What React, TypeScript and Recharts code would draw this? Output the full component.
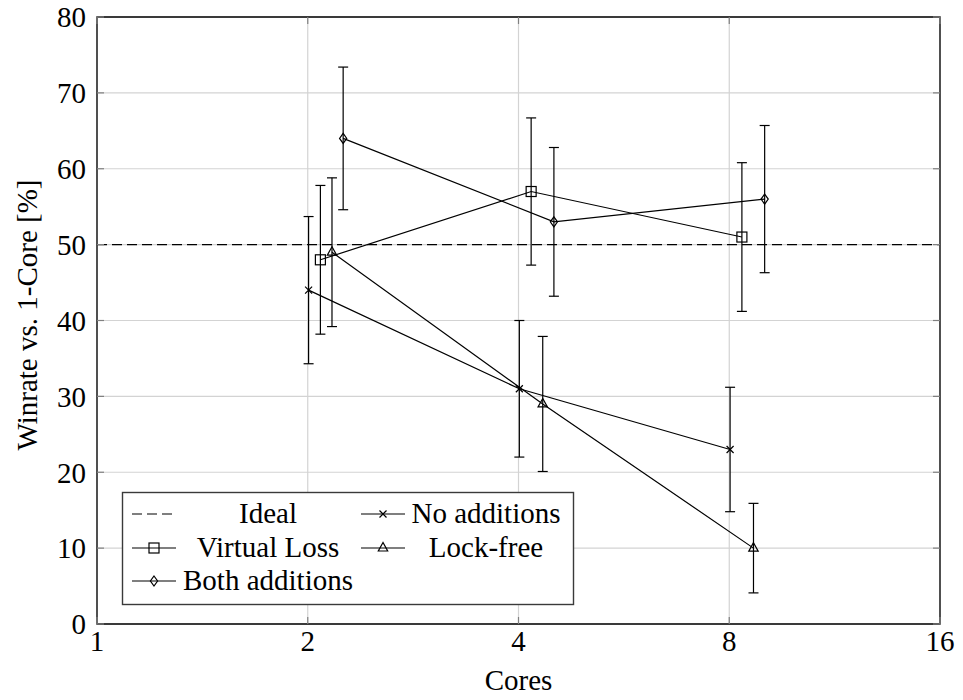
import React from 'react';
import {
  ComposedChart,
  Line,
  XAxis,
  YAxis,
  CartesianGrid,
  ErrorBar,
  ReferenceLine,
  ReferenceArea,
} from 'recharts';

// data
const cores = [2, 4, 8];
const noAdditions = [44, 31, 23];
const noAdditionsErr = [9.7, 9.0, 8.2];
const virtualLoss = [48, 57, 51];
const virtualLossErr = [9.8, 9.7, 9.8];
const lockFree = [49, 29, 10];
const lockFreeErr = [9.8, 8.9, 5.9];
const bothAdditions = [64, 53, 56];
const bothAdditionsErr = [9.4, 9.8, 9.7];
const ideal = 50;

const xTicks = [1, 2, 4, 8, 16];
const yTicks = [0, 10, 20, 30, 40, 50, 60, 70, 80];

const FONT = 'Liberation Serif';
const FS = 29;
const INK = '#000';
const LW = 1.2;

// plot box in page pixels (for the small inner tick marks)
const LEFT = 97;
const RIGHT = 940;
const TOP = 17;
const BOTTOM = 624;
const TICK = 7;
const TICK_COLOR = '#808080';

type Shape = 'cross' | 'square' | 'triangle' | 'diamond';

// small horizontal shift (log2 units) so the error bars don't overlap
const series: { name: string; shape: Shape; shift: number; y: number[]; err: number[] }[] = [
  { name: 'No additions', shape: 'cross', shift: 0.004, y: noAdditions, err: noAdditionsErr },
  { name: 'Virtual Loss', shape: 'square', shift: 0.06, y: virtualLoss, err: virtualLossErr },
  { name: 'Lock-free', shape: 'triangle', shift: 0.115, y: lockFree, err: lockFreeErr },
  { name: 'Both additions', shape: 'diamond', shift: 0.168, y: bothAdditions, err: bothAdditionsErr },
];

const toRows = (s: (typeof series)[number]) =>
  cores.map((c, i) => ({ x: c * Math.pow(2, s.shift), y: s.y[i], err: s.err[i] }));

const Marker = ({ shape, cx, cy }: { shape: Shape; cx: number; cy: number }) => {
  const p = { fill: 'none', stroke: INK, strokeWidth: LW };
  if (shape === 'square') return <rect x={cx - 5} y={cy - 5} width={10} height={10} {...p} />;
  if (shape === 'triangle')
    return <polygon points={`${cx},${cy - 5.5} ${cx - 4.7},${cy + 3} ${cx + 4.7},${cy + 3}`} {...p} />;
  if (shape === 'diamond')
    return <polygon points={`${cx},${cy - 5} ${cx + 3.6},${cy} ${cx},${cy + 5} ${cx - 3.6},${cy}`} {...p} />;
  return (
    <path d={`M${cx - 3.5},${cy - 3.5}L${cx + 3.5},${cy + 3.5}M${cx - 3.5},${cy + 3.5}L${cx + 3.5},${cy - 3.5}`} {...p} />
  );
};

const XTick = (props: any) => {
  const { x, y, payload } = props;
  return (
    <g>
      <line x1={x} x2={x} y1={BOTTOM} y2={BOTTOM - TICK} stroke={TICK_COLOR} strokeWidth={1.2} />
      <line x1={x} x2={x} y1={TOP} y2={TOP + TICK} stroke={TICK_COLOR} strokeWidth={1.2} />
      <text x={x} y={y} dy="0.71em" textAnchor="middle" fontFamily={FONT} fontSize={FS} fill={INK}>
        {payload.value}
      </text>
    </g>
  );
};

const YTick = (props: any) => {
  const { x, y, payload } = props;
  return (
    <g>
      <line x1={LEFT} x2={LEFT + TICK} y1={y} y2={y} stroke={TICK_COLOR} strokeWidth={1.2} />
      <line x1={RIGHT} x2={RIGHT - TICK} y1={y} y2={y} stroke={TICK_COLOR} strokeWidth={1.2} />
      <text x={x} y={y} dy="0.355em" textAnchor="end" fontFamily={FONT} fontSize={FS} fill={INK}>
        {payload.value}
      </text>
    </g>
  );
};

const legendItems: { name: string; shape: Shape | 'dash' }[] = [
  { name: 'Ideal', shape: 'dash' },
  { name: 'No additions', shape: 'cross' },
  { name: 'Virtual Loss', shape: 'square' },
  { name: 'Lock-free', shape: 'triangle' },
  { name: 'Both additions', shape: 'diamond' },
];

const Legend = () => {
  const rowBase = [523, 557, 590];
  const cols = [
    { icon: 132, text: 268 },
    { icon: 361, text: 486 },
  ];
  return (
    <svg
      width={963}
      height={700}
      style={{ position: 'absolute', left: 0, top: 0, pointerEvents: 'none' }}
    >
      <rect x={122.5} y={492.5} width={451} height={112} fill="#fff" stroke="#3a3a3a" strokeWidth={1.4} />
      {legendItems.map((it, i) => {
        const row = Math.floor(i / 2);
        const col = cols[i % 2];
        const base = rowBase[row];
        const ly = base - 9;
        return (
          <g key={it.name}>
            {it.shape === 'dash' ? (
              <line x1={col.icon} x2={col.icon + 42} y1={ly} y2={ly} stroke={INK} strokeWidth={LW} strokeDasharray="10 5" />
            ) : (
              <>
                <line x1={col.icon} x2={col.icon + 44} y1={ly} y2={ly} stroke={INK} strokeWidth={LW} />
                <Marker shape={it.shape} cx={col.icon + 22} cy={ly} />
              </>
            )}
            <text x={col.text} y={base} textAnchor="middle" fontFamily={FONT} fontSize={FS} fill={INK}>
              {it.name}
            </text>
          </g>
        );
      })}
    </svg>
  );
};

export default function App() {
  return (
    <div style={{ position: 'absolute', left: 0, top: 0, width: 963, height: 700, background: '#fff' }}>
      <ComposedChart width={963} height={700} margin={{ top: TOP, right: 963 - RIGHT, left: 0, bottom: 0 }}>
        <CartesianGrid stroke="#d3d3d3" strokeWidth={1.2} />
        <XAxis
          dataKey="x"
          type="number"
          scale="log"
          domain={[1, 16]}
          ticks={xTicks}
          allowDataOverflow
          height={700 - BOTTOM}
          tickSize={0}
          tickMargin={6}
          axisLine={false}
          tick={<XTick />}
          label={{
            value: 'Cores',
            content: () => (
              <text x={518.5} y={690} textAnchor="middle" fontFamily={FONT} fontSize={FS} fill={INK}>
                Cores
              </text>
            ),
          }}
        />
        <YAxis
          type="number"
          domain={[0, 80]}
          ticks={yTicks}
          allowDataOverflow
          width={LEFT}
          tickSize={0}
          tickMargin={11}
          axisLine={false}
          tick={<YTick />}
          label={{
            value: 'Winrate vs. 1-Core [%]',
            content: () => (
              <text
                x={0}
                y={0}
                transform="translate(37,315) rotate(-90)"
                textAnchor="middle"
                fontFamily={FONT}
                fontSize={FS}
                fill={INK}
              >
                Winrate vs. 1-Core [%]
              </text>
            ),
          }}
        />
        <ReferenceLine y={ideal} stroke={INK} strokeWidth={LW} strokeDasharray="10 5" />
        {series.map((s) => (
          <Line
            key={s.name}
            data={toRows(s)}
            dataKey="y"
            name={s.name}
            type="linear"
            stroke={INK}
            strokeWidth={LW}
            isAnimationActive={false}
            dot={(props: any) => <Marker key={`${s.name}-${props.index}`} shape={s.shape} cx={props.cx} cy={props.cy} />}
            activeDot={false}
          >
            <ErrorBar dataKey="err" direction="y" width={5} stroke={INK} strokeWidth={LW} isAnimationActive={false} />
          </Line>
        ))}
        <ReferenceArea x1={1} x2={16} y1={0} y2={80} fill="none" stroke={INK} strokeWidth={1.3} />
      </ComposedChart>
      <Legend />
    </div>
  );
}
